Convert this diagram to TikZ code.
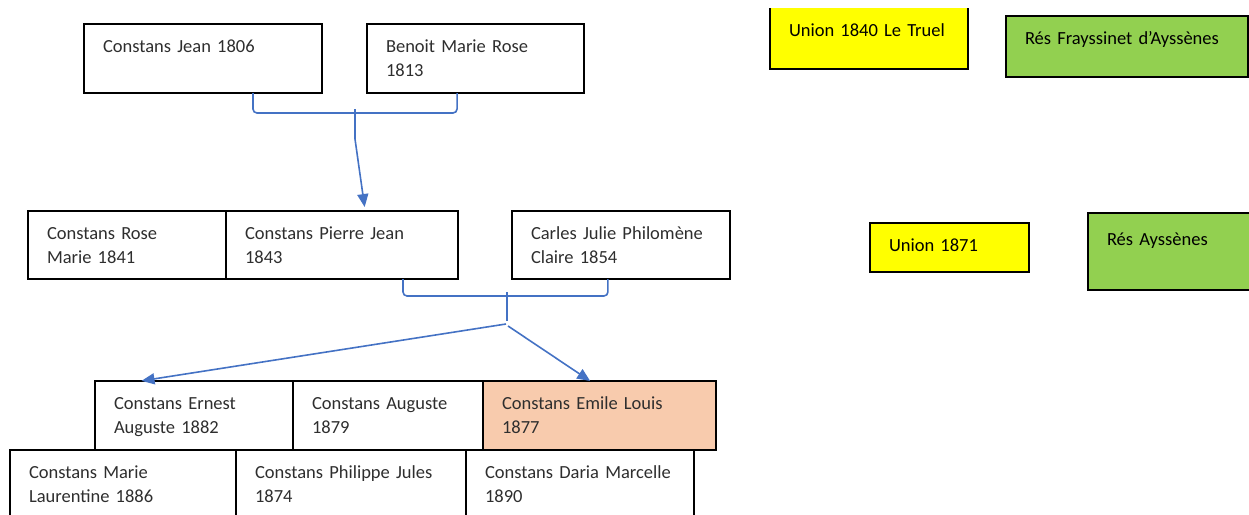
\documentclass[tikz,border=0pt]{standalone}
\usepackage{fontspec}
\setmainfont{Carlito}
\usetikzlibrary{arrows.meta,calc}
\definecolor{linkblue}{HTML}{4472C4}
\definecolor{unionyellow}{HTML}{FFFF00}
\definecolor{resgreen}{HTML}{92D050}
\definecolor{peach}{HTML}{F8CBAD}
\tikzset{
  person/.style={draw,line width=1.1pt,anchor=north west,inner xsep=19pt,inner ysep=0pt,outer sep=0pt,
    align=left,text height=28pt,text=black!82,font=\fontsize{18.5}{24}\selectfont},
  heavy/.style={line width=2pt},
  tag/.style={person,text=black},
  link/.style={linkblue,line width=1.6pt},
  linkarrow/.style={link,-{Triangle[length=13pt,width=11pt]}},
}

\begin{document}
\begin{tikzpicture}[x=1pt,y=-1pt]
\useasboundingbox (0,0) rectangle (1249,514);
% parents
\node[person,text width=200pt,text depth=41pt] (jean) at (84,24) {Constans Jean 1806};
\node[person,text width=179pt,text depth=41pt] (benoit) at (367,24) {Benoit Marie Rose\\1813};
% children of 1840
\node[person,text width=160pt,text depth=40pt] (rose) at (28,211) {Constans Rose\\Marie 1841};
\node[person,text width=194pt,text depth=40pt] (pierre) at (226,211) {Constans Pierre Jean\\1843};
\node[person,text width=180pt,text depth=40pt] (carles) at (512,211) {Carles Julie Philomène\\Claire 1854};
% children of 1871
\node[person,text width=160pt,text depth=41pt] (ernest) at (95,381) {Constans Ernest\\Auguste 1882};
\node[person,text width=152pt,text depth=41pt] (auguste) at (293,381) {Constans Auguste\\1879};
\node[person,fill=peach,text width=195pt,text depth=41pt] (emile) at (483,381) {Constans Emile Louis\\1877};
\node[person,text width=188pt,text depth=42pt] (marie) at (10,450) {Constans Marie\\Laurentine 1886};
\node[person,heavy,text width=192pt,text depth=42pt] (philippe) at (236,450) {Constans Philippe Jules\\1874};
\node[person,heavy,text width=190pt,text depth=42pt] (daria) at (466,450) {Constans Daria Marcelle\\1890};
% unions and residences
\node[tag,draw=none,fill=unionyellow,text width=160pt,text depth=33pt] (union1) at (770,8) {Union 1840 Le Truel};
\draw[line width=1.3pt] (union1.north west) |- (union1.south east) -- (union1.north east);
\node[tag,fill=resgreen,line width=1.3pt,text width=204pt,text depth=33pt] (res1) at (1006,16) {Rés Frayssinet d’Ayssènes};
\node[tag,fill=unionyellow,line width=1.3pt,text width=121pt,text depth=21pt,text height=28pt] (union2) at (870,223) {Union 1871};
\node[tag,fill=resgreen,line width=1.3pt,text width=137pt,text depth=45pt,text height=32pt] (res2) at (1088,213) {Rés Ayssènes};
% first brace
\coordinate (mid1) at (355,113);
\coordinate (drop1) at (355,139);
\draw[link,rounded corners=4pt] ($(jean.south west)!.71!(jean.south east)$) |- (mid1) -| ($(benoit.south west)!.415!(benoit.south east)$);
\draw[link] ($(mid1)+(0,-4)$) -- (drop1);
\draw[linkarrow,shorten >=4pt] (drop1) -- ($(pierre.north west)!.6!(pierre.north east)$);
% second brace
\coordinate (mid2) at (507,296);
\coordinate (fork) at (506,324);
\draw[link,rounded corners=4pt] ($(pierre.south west)!.763!(pierre.south east)$) |- (mid2) -| ($(carles.south west)!.44!(carles.south east)$);
\draw[link] ($(mid2)+(0,-4)$) -- ($(fork)+(1,-3)$);
\draw[linkarrow,shorten >=1pt] (fork) -- ($(ernest.north west)!.23!(ernest.north east)$);
\draw[linkarrow] ($(fork)+(2,2)$) -- ($(emile.north west)!.46!(emile.north east)$);
\end{tikzpicture}
\end{document}
